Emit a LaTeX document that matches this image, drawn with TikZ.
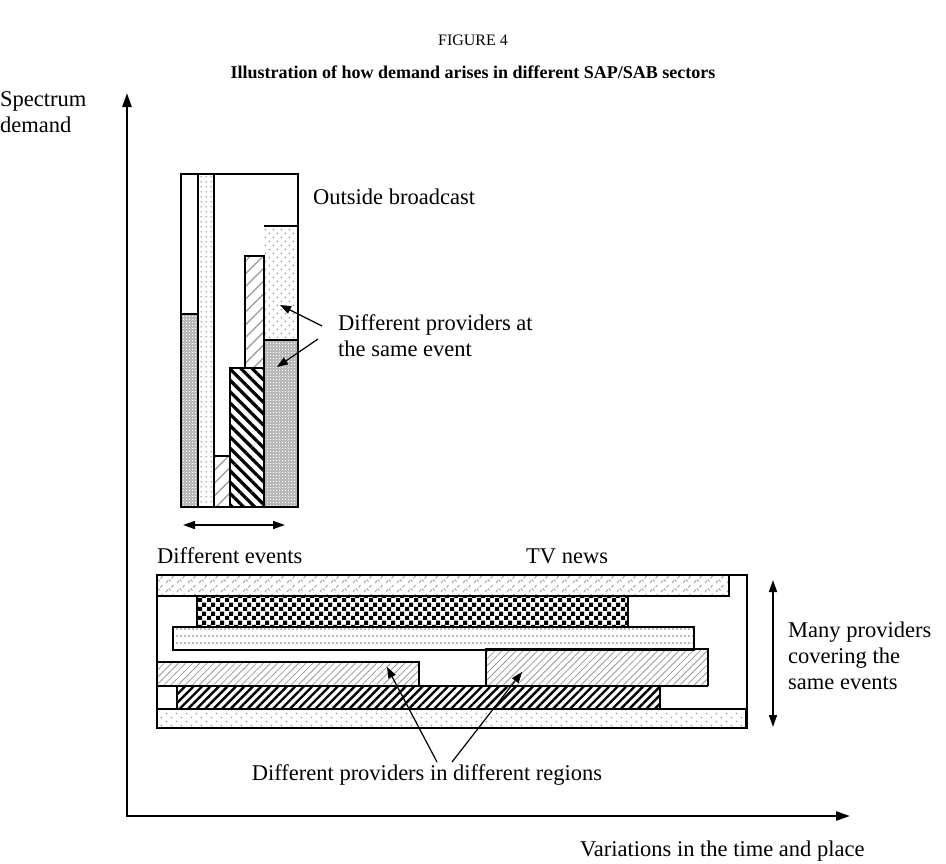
\documentclass[tikz,border=0pt]{standalone}
\usepackage{fontspec}
\setmainfont{Liberation Serif}
\usetikzlibrary{patterns,patterns.meta,arrows.meta}

\pgfdeclarepatternformonly{ldots}{\pgfqpoint{-1pt}{-1pt}}{\pgfqpoint{9pt}{9pt}}{\pgfqpoint{8pt}{8pt}}{\pgfpathcircle{\pgfqpoint{1.5pt}{1.5pt}}{0.9pt}\pgfpathcircle{\pgfqpoint{5.5pt}{5.5pt}}{0.9pt}\pgfusepath{fill}}
\pgfdeclarepatternformonly{coldots}{\pgfqpoint{-1pt}{-1pt}}{\pgfqpoint{6pt}{6pt}}{\pgfqpoint{5pt}{5pt}}{\pgfpathcircle{\pgfqpoint{1.2pt}{1.2pt}}{0.8pt}\pgfusepath{fill}}
\pgfdeclarepatternformonly{sdots}{\pgfqpoint{-1pt}{-1pt}}{\pgfqpoint{11pt}{9pt}}{\pgfqpoint{10pt}{8pt}}{\pgfpathcircle{\pgfqpoint{1.5pt}{1.5pt}}{0.8pt}\pgfpathcircle{\pgfqpoint{6.5pt}{5.5pt}}{0.8pt}\pgfusepath{fill}}
\pgfdeclarepatternformonly{mesh}{\pgfqpoint{0pt}{0pt}}{\pgfqpoint{3pt}{3pt}}{\pgfqpoint{3pt}{3pt}}{\pgfpathrectangle{\pgfqpoint{0pt}{0pt}}{\pgfqpoint{1.2pt}{1.2pt}}\pgfusepath{fill}}
\pgfdeclarepatternformonly{checkbw}{\pgfqpoint{0pt}{0pt}}{\pgfqpoint{9pt}{9pt}}{\pgfqpoint{9pt}{9pt}}{\pgfpathrectangle{\pgfqpoint{0pt}{0pt}}{\pgfqpoint{4.5pt}{4.5pt}}\pgfpathrectangle{\pgfqpoint{4.5pt}{4.5pt}}{\pgfqpoint{4.5pt}{4.5pt}}\pgfusepath{fill}}
\pgfdeclarepatternformonly{dashrows}{\pgfqpoint{0pt}{0pt}}{\pgfqpoint{4pt}{7pt}}{\pgfqpoint{4pt}{7pt}}{\pgfpathrectangle{\pgfqpoint{0pt}{2.5pt}}{\pgfqpoint{2.2pt}{1.6pt}}\pgfusepath{fill}}
\pgfdeclarepatternformonly{ticks}{\pgfqpoint{-1pt}{-1pt}}{\pgfqpoint{12pt}{10pt}}{\pgfqpoint{11pt}{9pt}}{\pgfsetlinewidth{1pt}\pgfpathmoveto{\pgfqpoint{1pt}{1pt}}\pgfpathlineto{\pgfqpoint{3pt}{3.5pt}}\pgfpathmoveto{\pgfqpoint{4pt}{4.5pt}}\pgfpathlineto{\pgfqpoint{5.5pt}{2.5pt}}\pgfpathmoveto{\pgfqpoint{6.5pt}{5.5pt}}\pgfpathlineto{\pgfqpoint{8.5pt}{8pt}}\pgfusepath{stroke}}

\tikzset{
  box/.style={draw=black,line width=2.4pt,line join=miter},
  thin/.style={line width=1.2pt},
  arr/.style={thin,-{Triangle[length=11pt,width=8pt]}},
  darr/.style={line width=1.6pt,{Triangle[length=12pt,width=8pt]}-{Triangle[length=12pt,width=8pt]}},
  axis/.style={line width=2.6pt,{Triangle[length=14pt,width=9pt]}-{Triangle[length=14pt,width=9pt]}},
  lbl/.style={font=\fontsize{22.5}{26}\selectfont,inner sep=0pt,align=left},
  pmesh/.style={preaction={fill=gray!55},pattern=mesh,pattern color=white},
  pldots/.style={pattern=ldots,pattern color=gray!80},
  pcoldots/.style={pattern=coldots,pattern color=gray!75},
  psdots/.style={pattern=sdots,pattern color=gray!80},
  phatchA/.style={pattern={Lines[angle=45,distance=9pt,line width=1.2pt]},pattern color=gray!80},
  phatchB/.style={pattern={Lines[angle=45,distance=5pt,line width=0.8pt]},pattern color=gray!80},
  pthickNW/.style={pattern={Lines[angle=-45,distance=8pt,line width=3.2pt]},pattern color=black},
  pthickNE/.style={pattern={Lines[angle=45,distance=6pt,line width=2.4pt]},pattern color=black},
  pcheck/.style={pattern=checkbw,pattern color=black},
  pdash/.style={pattern=dashrows,pattern color=gray!80},
  pticks/.style={pattern=ticks,pattern color=gray!70},
}

\begin{document}
\begin{tikzpicture}[x=1pt,y=-1pt]
\useasboundingbox (0,0) rectangle (946,863);

% titles
\node[font=\fontsize{16}{18}\selectfont] (fig) at (473,40) {FIGURE 4};
\node[font=\fontsize{18}{22}\selectfont\bfseries] (title) at (473,72) {Illustration of how demand arises in different SAP/SAB sectors};

% axes
\coordinate (ytop) at (127,93);
\coordinate (org) at (127,816);
\coordinate (xend) at (850,816);
\draw[axis] (ytop) |- (xend);
\node[lbl,anchor=north west] (ylab) at (0,91) {Spectrum\\demand};
\node[lbl,anchor=west] (xlab) at (580,851) {Variations in the time and place};

% outside broadcast
\def\T{174}
\path[pmesh] (181,314) rectangle (198,507);
\path[pcoldots] (198,\T) rectangle (214,507);
\path[phatchA] (214,456) rectangle (230,507);
\path[pthickNW] (230,368) rectangle (264,507);
\path[phatchA] (245,256) rectangle (264,368);
\path[pldots] (264,226) rectangle (298,340);
\path[pmesh] (264,340) rectangle (298,507);
\draw[box] (181,\T) rectangle (298,507);
\draw[box] (198,\T) -- (198,507);
\draw[box] (214,\T) -- (214,507);
\draw[box] (181,314) -- (198,314);
\draw[box] (214,456) -- (230,456) -- (230,507);
\draw[box] (230,507) -- (230,368) -- (264,368);
\draw[box] (245,368) -- (245,256) -- (264,256) -- (264,507);
\draw[box] (264,226) -- (298,226);
\draw[box] (264,340) -- (298,340);

\node[lbl,anchor=west] (ob) at (313,197) {Outside broadcast};
\node[lbl,anchor=west] (dp) at (338,336) {Different providers at\\the same event};
\coordinate (t1) at (322,326);
\coordinate (t2) at (318,339);
\coordinate (h1) at (280,305);
\coordinate (h2) at (277,367);
\draw[arr] (t1) -- (h1);
\draw[arr] (t2) -- (h2);

\coordinate (de1) at (183,525);
\coordinate (de2) at (285,525);
\draw[darr] (de1) -- (de2);
\node[lbl,anchor=west] (de) at (157,556) {Different events};
\node[lbl,anchor=west] (tv) at (526,556) {TV news};

% TV news
\path[pticks] (157,575) rectangle (729,596);
\path[pcheck] (197,596) rectangle (628,627);
\path[pdash] (173,627) rectangle (694,650);
\path[phatchB] (157,662) rectangle (419,686);
\path[phatchB] (486,649) rectangle (708,686);
\path[pthickNE] (177,686) rectangle (660,709);
\path[psdots] (157,709) rectangle (746,728);
\draw[box] (157,575) rectangle (747,728);
\draw[box] (157,596) -- (729,596) -- (729,575);
\draw[box] (197,596) rectangle (628,627);
\draw[box] (173,627) rectangle (694,650);
\draw[box] (157,662) -- (419,662) -- (419,686);
\draw[box] (486,686) -- (486,649) -- (708,649) -- (708,686);
\draw[box] (157,686) -- (708,686);
\draw[box] (177,686) -- (177,709) ;
\draw[box] (660,686) -- (660,709);
\draw[box] (157,709) -- (746,709) -- (746,728);

\coordinate (r1) at (773,580);
\coordinate (r2) at (773,727);
\draw[darr] (r1) -- (r2);
\node[lbl,anchor=west] (mp) at (788,656) {Many providers\\covering the\\same events};

\node[lbl] (dr) at (427,775) {Different providers in different regions};
\coordinate (s1) at (437,762);
\coordinate (s2) at (452,762);
\coordinate (e1) at (387,667);
\coordinate (e2) at (522,672);
\draw[arr] (s1) -- (e1);
\draw[arr] (s2) -- (e2);
\end{tikzpicture}
\end{document}
